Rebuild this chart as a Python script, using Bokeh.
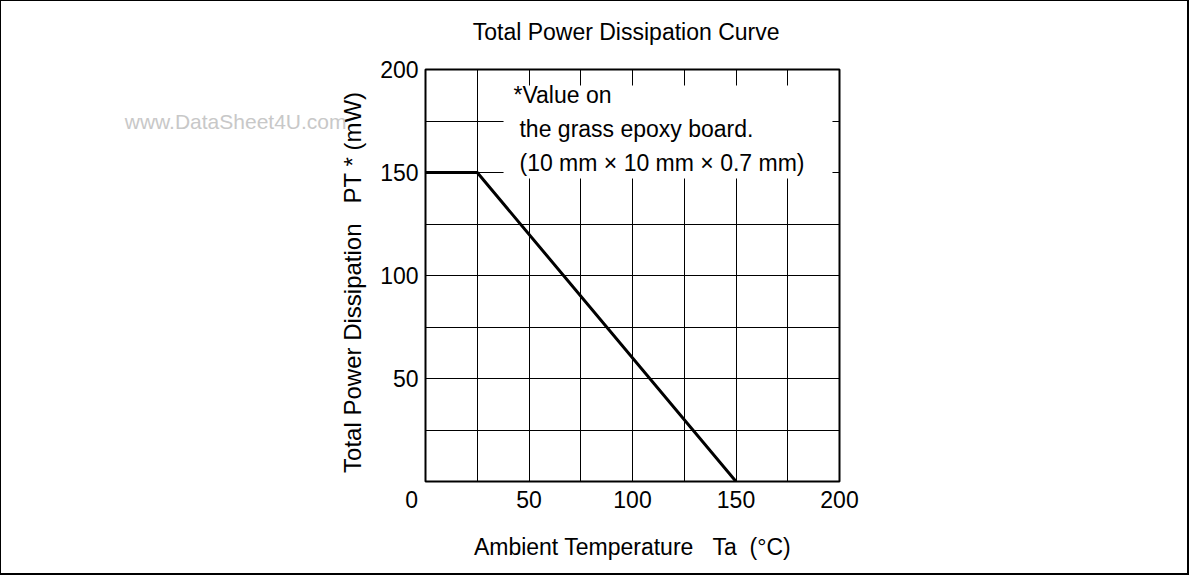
from bokeh.plotting import figure
from bokeh.layouts import column
from bokeh.models import Range1d, FixedTicker, Label, LinearAxis, Div
from bokeh.embed import file_html
from bokeh.resources import INLINE

# ---- data ----
temp_c = [0, 25, 150]            # Ambient temperature Ta (°C)
power_mw = [150, 150, 0]         # Total power dissipation PT (mW)
x_ticks = [0, 50, 100, 150, 200]
y_ticks = [50, 100, 150, 200]
grid_steps = [0, 25, 50, 75, 100, 125, 150, 175, 200]
note_lines = ["*Value on", "the grass epoxy board.", "(10 mm \u00d7 10 mm \u00d7 0.7 mm)"]
title_text = "Total Power Dissipation Curve"
x_label = "Ambient Temperature\u00a0\u00a0\u00a0Ta\u00a0\u00a0(\u00b0C)"
y_label = "Total Power Dissipation\u00a0\u00a0\u00a0PT * (mW)"
watermark = "www.DataSheet4U.com"

FONT = "Liberation Sans"
FS = "23px"
W, H = 1194, 579

p = figure(width=W, height=H, output_backend="svg", toolbar_location=None,
           x_range=Range1d(0, 200), y_range=Range1d(0, 200),
           min_border_left=425, min_border_right=W - 839,
           min_border_top=69, min_border_bottom=H - 481)

p.background_fill_color = "white"
p.border_fill_color = "white"
p.outline_line_color = "black"
p.outline_line_width = 2
p.title.visible = False

for ax, ticks in ((p.xaxis[0], x_ticks), (p.yaxis[0], y_ticks)):
    ax.ticker = FixedTicker(ticks=ticks)
    ax.major_tick_line_color = None
    ax.minor_tick_line_color = None
    ax.axis_line_color = None
    ax.major_label_text_font = FONT
    ax.major_label_text_font_size = FS
    ax.major_label_text_color = "black"
    ax.axis_label_text_font = FONT
    ax.axis_label_text_font_size = FS
    ax.axis_label_text_font_style = "normal"
    ax.axis_label_text_color = "black"

p.yaxis.axis_label_text_font_size = "24px"
p.xaxis.axis_label = x_label
p.yaxis.axis_label = y_label + "\u00a0\u00a0"
# the origin "0" sits left of the corner, shared by both axes
p.xaxis.major_label_overrides = {0: "0\u2003\u2009"}
p.xaxis.major_label_standoff = -1
p.yaxis.major_label_standoff = 1
p.xaxis.axis_label_standoff = 18
p.yaxis.axis_label_standoff = 11

# chart title, carried by a bare axis above the frame
title_axis = LinearAxis(ticker=FixedTicker(ticks=[]), axis_label=title_text + "\u00a0\u00a0",
                        axis_line_color=None, major_tick_line_color=None,
                        minor_tick_line_color=None, major_label_standoff=0,
                        axis_label_text_font=FONT, axis_label_text_font_size=FS,
                        axis_label_text_font_style="normal", axis_label_text_color="black",
                        axis_label_standoff=25)
p.add_layout(title_axis, "above")

# watermark, drawn as a tick label of a bare extra axis on the left
wm_axis = LinearAxis(ticker=FixedTicker(ticks=[175]),
                     major_label_overrides={175: watermark},
                     axis_line_color=None, major_tick_line_color=None,
                     minor_tick_line_color=None,
                     major_label_text_font=FONT, major_label_text_font_size="21px",
                     major_label_text_color="#c8c8c8", major_label_standoff=-16)
p.add_layout(wm_axis, "left")

p.xgrid.ticker = FixedTicker(ticks=grid_steps)
p.ygrid.ticker = FixedTicker(ticks=grid_steps)
for g in (p.xgrid[0], p.ygrid[0]):
    g.grid_line_color = "black"
    g.grid_line_width = 1
    g.grid_line_alpha = 1.0

# white box behind the note
p.quad(left=37.7, right=196.6, bottom=147.1, top=192.2,
       fill_color="white", line_color=None)

# curve
p.line(temp_c, power_mw, line_color="black", line_width=3)

# note text
note_x = [42.5, 45.4, 45.4]
note_y = [187.4, 171.2, 154.5]
for t, nx, ny in zip(note_lines, note_x, note_y):
    p.add_layout(Label(x=nx, y=ny, text=t, text_font=FONT, text_font_size=FS,
                       text_align="left", text_baseline="middle", text_color="black"))

# outer border of the whole drawing (pure CSS box over the figure)
frame_box = Div(text="", styles={"position": "absolute", "left": "-6px", "top": "-6px",
                                 "width": "1190px", "height": "576px",
                                 "box-sizing": "border-box",
                                 "border": "2px solid black",
                                 "pointer-events": "none"})

layout = column(p, frame_box)
open("out.html", "w").write(file_html(layout, INLINE))
